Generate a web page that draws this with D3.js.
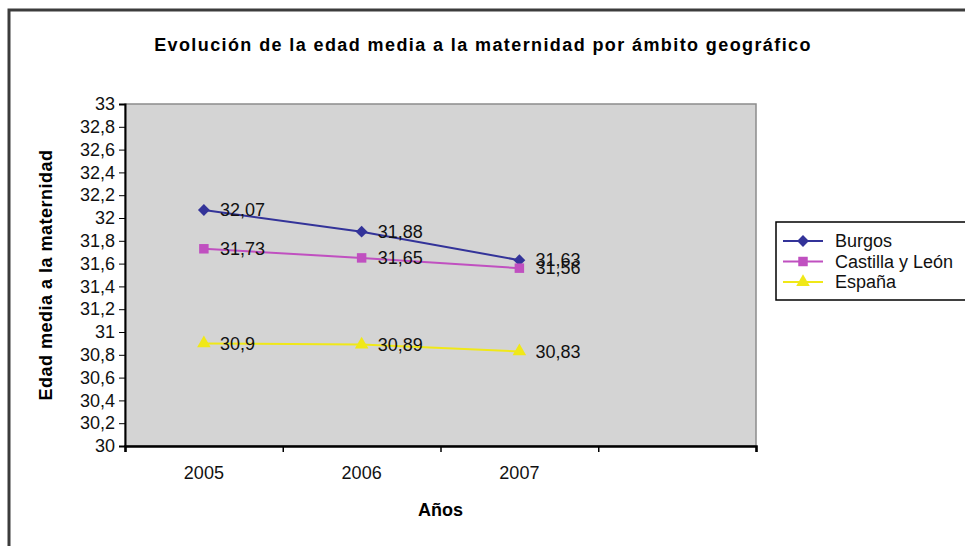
<!DOCTYPE html>
<html>
<head>
<meta charset="utf-8">
<script src="https://cdn.jsdelivr.net/npm/d3@7"></script>
<style>
  body { margin: 0; background: #fff; }
  svg { font-family: "Liberation Sans", Arial, sans-serif; }
</style>
</head>
<body>
<div id="chart"></div>
<script>
"use strict";

var years = ["2005", "2006", "2007"];
var slots = 4;   // the category axis keeps one empty slot on the right
var seriesNames = ["Burgos", "Castilla y León", "España"];
var burgos = [32.07, 31.88, 31.63];
var castilla = [31.73, 31.65, 31.56];
var espana = [30.9, 30.89, 30.83];
var yTicks = [30, 30.2, 30.4, 30.6, 30.8, 31, 31.2, 31.4, 31.6, 31.8, 32, 32.2, 32.4, 32.6, 32.8, 33];

var diamond = {
    draw: function(ctx, size) {
        var r = Math.sqrt(size) / 2 * Math.SQRT2;
        ctx.moveTo(0, -r); ctx.lineTo(r, 0); ctx.lineTo(0, r); ctx.lineTo(-r, 0); ctx.closePath();
    }
};

var series = [
    {name: seriesNames[0], values: burgos, color: "#333399", symbol: diamond, size: 70},
    {name: seriesNames[1], values: castilla, color: "#C050C0", symbol: d3.symbolSquare, size: 90},
    {name: seriesNames[2], values: espana, color: "#F0E818", symbol: d3.symbolTriangle, size: 80}
];

var W = 965, H = 546;
var margin = {top: 104, left: 125},
    width = 631,
    height = 342;

var locale = d3.formatLocale({decimal: ",", thousands: ".", grouping: [3], currency: ["", "€"]});
var fmt = function(v) { return locale.format("~g")(v); };

var svg = d3.select("#chart").append("svg")
    .attr("width", W)
    .attr("height", H);

// chart border (clipped at right and bottom in the original)
svg.append("rect")
    .attr("x", 9).attr("y", 10)
    .attr("width", 1000).attr("height", 600)
    .attr("fill", "none")
    .attr("stroke", "#3c3c3c")
    .attr("stroke-width", 3);

svg.append("text")
    .attr("x", 483)
    .attr("y", 51)
    .attr("text-anchor", "middle")
    .style("font-size", "18px")
    .style("font-weight", "bold")
    .style("letter-spacing", "1.4px")
    .text("Evolución de la edad media a la maternidad por ámbito geográfico");

var g = svg.append("g")
    .attr("transform", "translate(" + margin.left + "," + margin.top + ")");

var xBand = d3.scaleBand().domain(d3.range(slots)).range([0, width]);
var xEdge = d3.scaleLinear().domain([0, slots]).range([0, width]);
var yScale = d3.scaleLinear().domain([30, 33]).range([height, 0]);

// plot area
g.append("rect")
    .attr("width", width)
    .attr("height", height)
    .attr("fill", "#D4D4D4")
    .attr("stroke", "#8c8c8c")
    .attr("stroke-width", 1.5);

// y axis
var yAxis = g.append("g")
    .call(d3.axisLeft(yScale).tickValues(yTicks).tickSize(6).tickPadding(4).tickFormat(fmt));
yAxis.select(".domain").attr("stroke", "#000").attr("stroke-width", 2);
yAxis.selectAll("text").style("font-size", "18px").attr("fill", "#111");

// x axis: ticks on category boundaries, labels in the middle
var xTicks = g.append("g")
    .attr("transform", "translate(0," + height + ")")
    .call(d3.axisBottom(xEdge).ticks(slots).tickSize(6).tickFormat(""));
xTicks.select(".domain").attr("stroke", "#000").attr("stroke-width", 2.5);
xTicks.selectAll("line").attr("stroke-width", 1.5);

var xLabels = g.append("g")
    .attr("transform", "translate(0," + height + ")")
    .call(d3.axisBottom(xBand).tickSize(0).tickPadding(20)
        .tickFormat(function(i) { return years[i] || ""; }));
xLabels.select(".domain").remove();
xLabels.selectAll("text").style("font-size", "18px").attr("fill", "#111");

// axis titles
g.append("text")
    .attr("x", width / 2)
    .attr("y", height + 70)
    .attr("text-anchor", "middle")
    .style("font-size", "18px")
    .style("font-weight", "bold")
    .text("Años");

g.append("text")
    .attr("transform", "rotate(-90)")
    .attr("x", -height / 2)
    .attr("y", -73)
    .attr("text-anchor", "middle")
    .style("font-size", "18px")
    .style("font-weight", "bold")
    .style("letter-spacing", "0.5px")
    .text("Edad media a la maternidad");

// lines, markers and value labels
var cx = function(i) { return xBand(i) + xBand.bandwidth() / 2; };
var line = d3.line()
    .x(function(d, i) { return cx(i); })
    .y(function(d) { return yScale(d); });

series.forEach(function(s) {
    var sg = g.append("g");
    sg.append("path")
        .datum(s.values)
        .attr("d", line)
        .attr("fill", "none")
        .attr("stroke", s.color)
        .attr("stroke-width", 2);
    sg.selectAll(".marker")
        .data(s.values)
        .enter().append("path")
        .attr("class", "marker")
        .attr("d", d3.symbol().type(s.symbol).size(s.size))
        .attr("transform", function(d, i) { return "translate(" + cx(i) + "," + yScale(d) + ")"; })
        .attr("fill", s.color);
    sg.selectAll(".vlabel")
        .data(s.values)
        .enter().append("text")
        .attr("class", "vlabel")
        .attr("x", function(d, i) { return cx(i) + 16; })
        .attr("y", function(d) { return yScale(d); })
        .attr("dy", "0.35em")
        .style("font-size", "18px")
        .attr("fill", "#111")
        .text(fmt);
});

// legend
var legend = svg.append("g").attr("transform", "translate(776,222)");
legend.append("rect")
    .attr("width", 300)
    .attr("height", 78)
    .attr("fill", "#fff")
    .attr("stroke", "#000")
    .attr("stroke-width", 1.5);

var item = legend.selectAll(".item")
    .data(series)
    .enter().append("g")
    .attr("class", "item")
    .attr("transform", function(d, i) { return "translate(0," + (19 + i * 20.5) + ")"; });
item.append("line")
    .attr("x1", 7).attr("x2", 47)
    .attr("stroke", function(d) { return d.color; })
    .attr("stroke-width", 2);
item.append("path")
    .attr("d", function(d) { return d3.symbol().type(d.symbol).size(d.size)(); })
    .attr("transform", "translate(27,0)")
    .attr("fill", function(d) { return d.color; });
item.append("text")
    .attr("x", 59)
    .attr("dy", "0.35em")
    .style("font-size", "18px")
    .attr("fill", "#111")
    .text(function(d) { return d.name; });
</script>
</body>
</html>
